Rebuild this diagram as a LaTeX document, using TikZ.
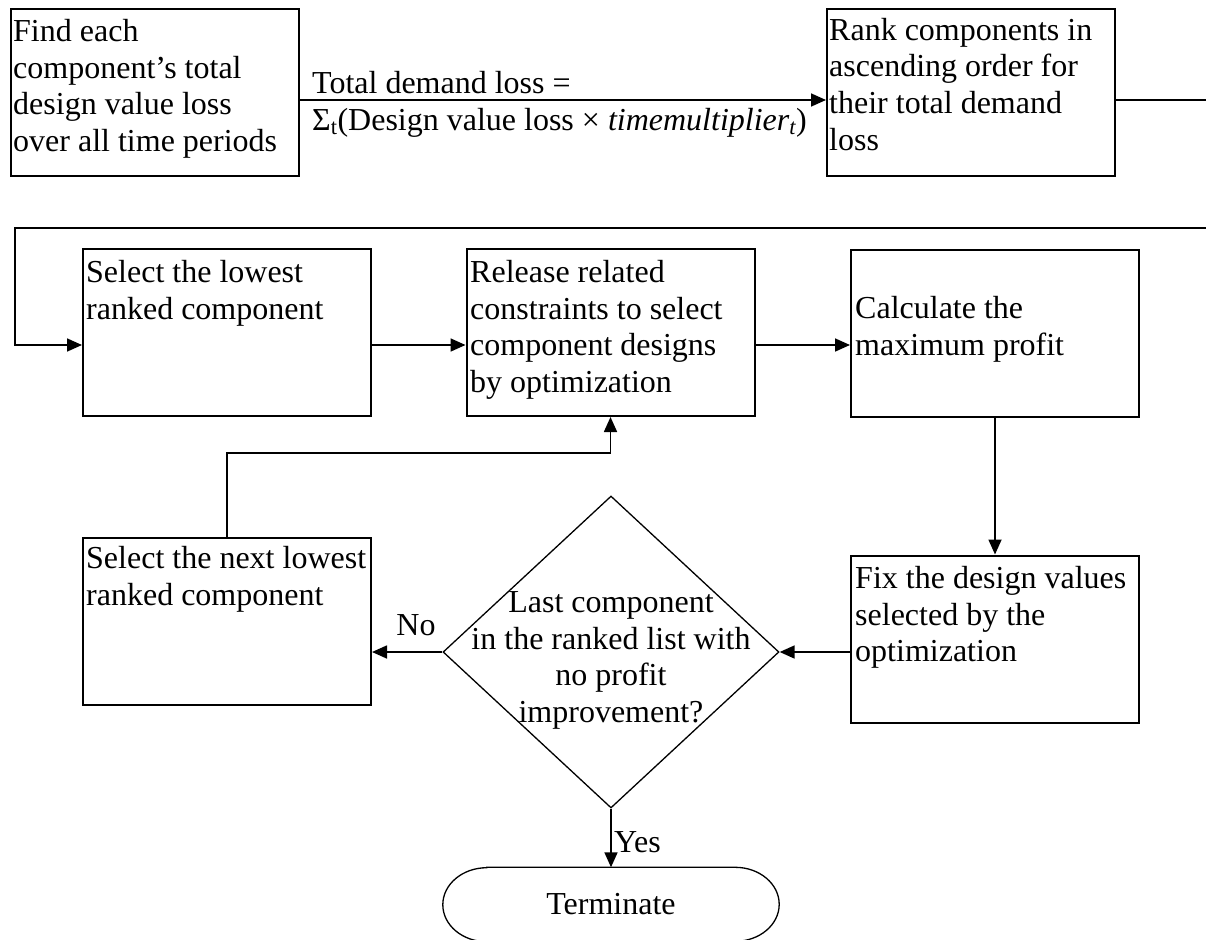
\documentclass[tikz,border=0pt]{standalone}
\usepackage{fontspec}
\setmainfont{Liberation Serif}
\usetikzlibrary{arrows.meta,shapes.geometric}
\newcommand{\firstline}{\rule{0pt}{29pt}}
\begin{document}
\begin{tikzpicture}[x=1pt,y=-1pt,
  every node/.style={font=\fontsize{32}{36.8}\selectfont},
  stepbox/.style={draw, line width=2pt, minimum width=288pt, minimum height=167pt, inner sep=0pt},
  txt/.style={anchor=north west, align=left, inner sep=0pt},
  arr/.style={line width=1.7pt, -{Triangle[length=15pt,width=13pt]}},
  ln/.style={line width=1.7pt},
  lbl/.style={inner sep=0pt},
]
\useasboundingbox (0,0) rectangle (1206,939);

% process boxes
\node[stepbox] (A) at (155,92.5) {};
\node[stepbox] (B) at (971,92.5) {};
\node[stepbox] (C) at (227,332.5) {};
\node[stepbox] (D) at (610.5,332.5) {};
\node[stepbox] (E) at (995,333) {};
\node[stepbox] (F) at (995,639) {};
\node[stepbox] (G) at (227,621) {};

% box texts, set flush left from the top of each box
\node[txt] (At) at (13,12) {\firstline Find each\\component’s total\\design value loss\\over all time periods};
\node[txt] (Bt) at (829,11) {\firstline Rank components in\\ascending order for\\their total demand\\loss};
\node[txt] (Ct) at (86,253) {\firstline Select the lowest\\ranked component};
\node[txt] (Dt) at (470,253) {\firstline Release related\\constraints to select\\component designs\\by optimization};
\node[txt] (Et) at (855,289) {\firstline Calculate the\\maximum profit};
\node[txt] (Ft) at (855,559) {\firstline Fix the design values\\selected by the\\optimization};
\node[txt] (Gt) at (86,539) {\firstline Select the next lowest\\ranked component};

% decision and end
\node[draw, diamond, line width=1.3pt, aspect=1.077, minimum width=336pt, minimum height=312pt, inner sep=0pt] (dia) at (611,652) {};
\node[anchor=north, align=center, inner sep=0pt] (diat) at (611,583) {\firstline Last component\\in the ranked list with\\no profit\\improvement?};
\node[minimum width=336pt, minimum height=74pt, inner sep=0pt] (term) at (611,904.5) {Terminate};
\draw[line width=1.3pt]
  ([xshift=44pt]term.north west) -- ([xshift=-44pt]term.north east)
  arc[start angle=90, end angle=-90, x radius=44pt, y radius=37pt]
  -- ([xshift=44pt]term.south west)
  arc[start angle=270, end angle=90, x radius=44pt, y radius=37pt] -- cycle;

% reference levels for the connectors
\coordinate (r1) at (0,100);
\coordinate (r2) at (0,345);
\coordinate (h453) at (0,453);
\coordinate (edge1) at (1206,100);
\coordinate (edge2) at (1206,228);
\coordinate (lp) at (15,228);
\coordinate (turn) at (D.south |- h453);

% connectors
\draw[arr] (A.east |- r1) -- (B.west |- r1);
\node[txt] (sumlbl) at (312,64) {\firstline Total demand loss =\\Σ\textsubscript{t}(Design value loss × \textit{timemultiplier\textsubscript{t}})};
\draw[ln] (B.east |- r1) -- (edge1);
\draw[arr] (edge2) -- (lp) |- (C.west |- r2);
\draw[arr] (C.east |- r2) -- (D.west |- r2);
\draw[arr] (D.east |- r2) -- (E.west |- r2);
\draw[arr] (E.south) -- (F.north);
\draw[arr] (F.west |- dia) -- (dia.east);
\draw[arr] (dia.west) -- (G.east |- dia);
\node[lbl, anchor=base] (no) at (416,635) {No};
\draw[arr] (G.north) |- (turn) -- (D.south);
\draw[arr] (dia.south) -- (term.north);
\node[lbl, anchor=base west] (yes) at (614,852) {Yes};
\end{tikzpicture}
\end{document}
